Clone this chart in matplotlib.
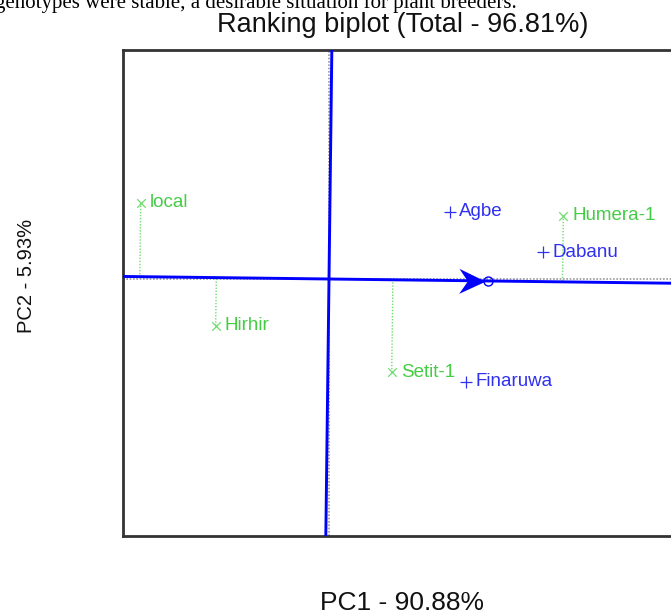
import numpy as np
import matplotlib
matplotlib.use("Agg")
import matplotlib.pyplot as plt
from matplotlib.path import Path
from matplotlib.markers import MarkerStyle
from matplotlib.transforms import Affine2D

# ---------------- data ----------------
green_names = ['local', 'Hirhir', 'Humera-1', 'Setit-1']
green_pc1 = [-1.828, -1.100, 2.275, 0.609]
green_pc2 = [0.741, -0.453, 0.615, -0.906]

blue_names = ['Agbe', 'Dabanu', 'Finaruwa']
blue_pc1 = [1.175, 2.081, 1.330]
blue_pc2 = [0.653, 0.259, -0.997]

avg_env = [1.541, -0.019]   # average environment coordinates

title = 'Ranking biplot (Total - 96.81%)'
xlabel = 'PC1 - 90.88%'
ylabel = 'PC2 - 5.93%'
above_text = 'genotypes were stable, a desirable situation for plant breeders.'

# ---------------- style ----------------
W, H = 671, 615
BLUE = '#0000ff'
BLUE_TXT = '#3030f0'
GREEN = '#45cc45'
GREEN_LINE = '#6fdc6f'
FRAME = '#333333'
SANS = ['Liberation Sans', 'DejaVu Sans']

fig = plt.figure(figsize=(W / 100, H / 100), dpi=100)
fig.patch.set_facecolor('white')

left_px, right_px, top_px, bottom_px = 123, 720, 50, 536
ax = fig.add_axes([left_px / W, 1 - bottom_px / H,
                   (right_px - left_px) / W, (bottom_px - top_px) / H])

ppu = 103.0  # pixels per unit (both axes)
ox, oy = 329, 279
ax.set_xlim(-(ox - left_px) / ppu, (right_px - ox) / ppu)
ax.set_ylim(-(bottom_px - oy) / ppu, (oy - top_px) / ppu)

for s in ['left', 'top', 'bottom', 'right']:
    ax.spines[s].set_color(FRAME)
    ax.spines[s].set_linewidth(2.0)
ax.set_xticks([])
ax.set_yticks([])

# grey dotted reference axes
ax.axhline(0, color='#9a9a9a', lw=1.2, ls=(0, (1, 1)), zorder=1)
ax.axvline(0, color='#9a9a9a', lw=1.2, ls=(0, (1, 1)), zorder=1)

# AEC abscissa and ordinate
ae = np.array(avg_env)
u = ae / np.linalg.norm(ae)
ax.axline((0, 0), (ae[0], ae[1]), color=BLUE, lw=2.1, zorder=3)
ax.axline((0, 0), (-ae[1], ae[0]), color=BLUE, lw=2.1, zorder=3)

# arrow head (barbed) pointing to the average environment
arrow_path = Path([(1, 0), (-1, 0.95), (-0.35, 0), (-1, -0.95), (1, 0)],
                  [Path.MOVETO, Path.LINETO, Path.LINETO, Path.LINETO, Path.CLOSEPOLY])
ang = np.degrees(np.arctan2(ae[1], ae[0]))
ms = MarkerStyle(arrow_path, transform=Affine2D().rotate_deg(ang))
head = ae - u * 0.15
ax.plot([head[0]], [head[1]], marker=ms, markersize=19, color=BLUE,
        markeredgewidth=0, zorder=5)
ax.plot([ae[0]], [ae[1]], marker='o', markersize=6.5, markerfacecolor='none',
        markeredgecolor=BLUE, markeredgewidth=1.0, zorder=6)

# projections of green genotypes onto the AEC abscissa
for x, y in zip(green_pc1, green_pc2):
    p = np.array([x, y])
    f = np.dot(p, u) * u
    ax.plot([p[0], f[0]], [p[1], f[1]], color=GREEN_LINE, lw=1.0,
            ls=(0, (1, 1.2)), zorder=2)

# points and labels
ax.scatter(green_pc1, green_pc2, marker='x', s=38, color=GREEN_LINE,
           linewidths=0.9, zorder=4)
for n, x, y in zip(green_names, green_pc1, green_pc2):
    ax.annotate(n, (x, y), xytext=(6.5, 0), textcoords='offset points',
                va='center', ha='left', fontsize=13.5, color=GREEN,
                family=SANS, zorder=5)

ax.scatter(blue_pc1, blue_pc2, marker='+', s=75, color=BLUE_TXT,
           linewidths=0.9, zorder=4)
for n, x, y in zip(blue_names, blue_pc1, blue_pc2):
    ax.annotate(n, (x, y), xytext=(6.5, 0), textcoords='offset points',
                va='center', ha='left', fontsize=13.5, color=BLUE_TXT,
                family=SANS, zorder=5)

# texts
fig.text(402.5 / W, 1 - 32 / H, title, ha='center', va='baseline',
         fontsize=19.5, family=SANS, color='#111111')
fig.text(402.5 / W, 1 - 610 / H, xlabel, ha='center', va='baseline',
         fontsize=19, family=SANS, color='#111111')
fig.text(26.5 / W, 1 - 276 / H, ylabel, ha='center', va='center',
         rotation=90, fontsize=14.5, family=SANS, color='#111111')
fig.text(517 / W, 1 - 8 / H, above_text, ha='right', va='baseline',
         fontsize=15, family=['Liberation Serif', 'DejaVu Serif'], color='black')

fig.savefig('out.png', dpi=100)
